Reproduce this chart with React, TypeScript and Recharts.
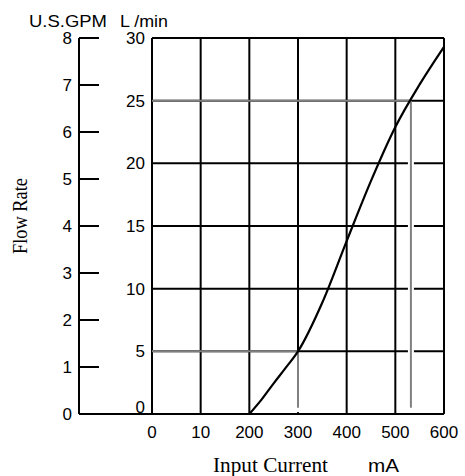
import React from 'react';
import { LineChart, Line, XAxis, YAxis, CartesianGrid, ReferenceLine } from 'recharts';

// flow curve (L/min against input current in mA)
const currentMa = [200, 225, 250, 275, 300, 350, 400, 450, 500, 550, 600];
const flowLmin = [0, 1.15, 2.45, 3.7, 5, 8.9, 13.8, 18.6, 22.9, 26.3, 29.3];

const xTicks = [0, 100, 200, 300, 400, 500, 600];
const xTickLabels = ['0', '10', '200', '300', '400', '500', '600'];
const lminTicks = [0, 5, 10, 15, 20, 25, 30];
const gpmTicks = [0, 1, 2, 3, 4, 5, 6, 7, 8];
const LMIN_PER_GPM = 3.785;

// operating points marked with the gray guide lines
const guideCurrent = [300, 532];
const guideFlow = [5, 25];

const data = currentMa.map((c, i) => ({
  current: c,
  flow: flowLmin[i],
  flowGpm: flowLmin[i] / LMIN_PER_GPM,
}));

// axis ids: recharts stacks left axes outward in id order
const LMIN = 'a-lmin';
const GPM = 'b-gpm';

const SANS = '"Liberation Sans", Arial, sans-serif';
const SERIF = '"Liberation Serif", "Times New Roman", serif';
const GUIDE = '#808080';

function GpmTick({ x, y, payload }: any) {
  // the zero tick runs over to the plot so the base line is continuous
  const len = payload.value === 0 ? 73 : 20;
  return (
    <g>
      <line x1={x} y1={y} x2={x + len} y2={y} stroke="#000" strokeWidth={2} />
      <text x={x - 7} y={y} dy="0.36em" textAnchor="end" fontSize={17} fontFamily={SANS} fill="#000">
        {payload.value}
      </text>
    </g>
  );
}

function LminTick({ x, y, payload }: any) {
  const shift = payload.value === 0 ? -7 : 0;
  return (
    <text x={x - 7} y={y + shift} dy="0.36em" textAnchor="end" fontSize={17} fontFamily={SANS} fill="#000">
      {payload.value}
    </text>
  );
}

export default function App() {
  return (
    <div style={{ position: 'absolute', left: 0, top: 0, background: '#fff' }}>
      <LineChart
        width={465}
        height={476}
        data={data}
        margin={{ top: 38, right: 21, bottom: 32, left: 0 }}
      >
        <CartesianGrid yAxisId={LMIN} stroke="#000" strokeWidth={2} />
        <XAxis
          dataKey="current"
          type="number"
          domain={[0, 600]}
          ticks={xTicks}
          interval={0}
          height={30}
          axisLine={{ stroke: '#000', strokeWidth: 2 }}
          tickLine={false}
          tickSize={0}
          tickMargin={12}
          tickFormatter={(v: number) => xTickLabels[xTicks.indexOf(v)] ?? String(v)}
          tick={{ fontSize: 17, fontFamily: SANS, fill: '#000' }}
        />
        <YAxis
          yAxisId={LMIN}
          width={73}
          domain={[0, 30]}
          ticks={lminTicks}
          interval={0}
          axisLine={false}
          tickLine={false}
          tickSize={0}
          tickMargin={0}
          tick={<LminTick />}
        />
        <YAxis
          yAxisId={GPM}
          width={79}
          domain={[0, 8]}
          allowDataOverflow
          ticks={gpmTicks}
          interval={0}
          axisLine={{ stroke: '#000', strokeWidth: 2 }}
          tickLine={false}
          tickSize={0}
          tickMargin={0}
          tick={<GpmTick />}
        />
        {guideCurrent.map((c, i) => (
          <ReferenceLine
            key={`h${i}`}
            yAxisId={LMIN}
            segment={[{ x: 0, y: guideFlow[i] }, { x: c, y: guideFlow[i] }]}
            stroke={GUIDE}
            strokeWidth={2}
            ifOverflow="visible"
          />
        ))}
        {guideCurrent.map((c, i) => (
          <ReferenceLine
            key={`w${i}`}
            yAxisId={LMIN}
            segment={[{ x: c, y: guideFlow[i] - 1 }, { x: c, y: 0.15 }]}
            stroke="#fff"
            strokeWidth={6}
            ifOverflow="visible"
          />
        ))}
        {guideCurrent.map((c, i) => (
          <ReferenceLine
            key={`v${i}`}
            yAxisId={LMIN}
            segment={[{ x: c, y: guideFlow[i] }, { x: c, y: 0.5 }]}
            stroke={GUIDE}
            strokeWidth={2}
            ifOverflow="visible"
          />
        ))}
        {/* same curve in U.S. gallons, drawn invisibly so the GPM scale exists */}
        <Line
          yAxisId={GPM}
          type="monotone"
          dataKey="flowGpm"
          stroke="none"
          dot={false}
          activeDot={false}
          isAnimationActive={false}
        />
        <Line
          yAxisId={LMIN}
          type="monotone"
          dataKey="flow"
          stroke="#000"
          strokeWidth={2.2}
          dot={false}
          activeDot={false}
          isAnimationActive={false}
        />
        <text x={29} y={27} fontSize={17} fontFamily={SANS} fill="#000" textLength={78} lengthAdjust="spacingAndGlyphs">
          U.S.GPM
        </text>
        <text x={120} y={27} fontSize={17} fontFamily={SANS} fill="#000" textLength={48} lengthAdjust="spacingAndGlyphs">
          L /min
        </text>
        <text
          x={27}
          y={216}
          transform="rotate(-90 27 216)"
          textAnchor="middle"
          fontSize={20}
          fontFamily={SERIF}
          fill="#000"
          textLength={76}
          lengthAdjust="spacingAndGlyphs"
        >
          Flow Rate
        </text>
        <text x={213} y={472} fontSize={21} fontFamily={SERIF} fill="#000" textLength={115} lengthAdjust="spacingAndGlyphs">
          Input Current
        </text>
        <text x={368} y={472} fontSize={18} fontFamily={SANS} fill="#000" textLength={31} lengthAdjust="spacingAndGlyphs">
          mA
        </text>
      </LineChart>
    </div>
  );
}
